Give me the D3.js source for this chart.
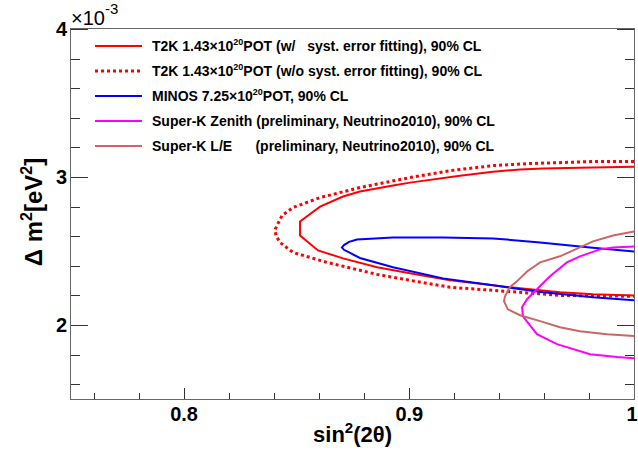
<!DOCTYPE html>
<html>
<head>
<meta charset="utf-8">
<script src="https://cdn.jsdelivr.net/npm/d3@7"></script>
<style>
  body { margin: 0; background: #fff; }
  text { font-family: "Liberation Sans", Arial, sans-serif; }
</style>
</head>
<body>
<script>
// contour points: [sin^2(2theta), dm^2 in 1e-3 eV^2]
var t2kSolid = [
  [1.0, 3.07], [0.976, 3.063], [0.9596, 3.057], [0.9494, 3.05], [0.9374, 3.036],
  [0.9227, 3.009], [0.9005, 2.962], [0.893, 2.942], [0.8783, 2.902], [0.8708, 2.868],
  [0.8606, 2.80], [0.8517, 2.70], [0.8517, 2.605], [0.8597, 2.504], [0.8708, 2.45],
  [0.8859, 2.39], [0.9005, 2.349], [0.9183, 2.302], [0.9494, 2.248], [0.9671, 2.221],
  [0.9818, 2.207], [1.0, 2.20]
];
var t2kDotted = [
  [1.0, 3.104], [0.9805, 3.104], [0.9525, 3.09], [0.9374, 3.077], [0.9183, 3.043],
  [0.9005, 2.996], [0.8783, 2.929], [0.8606, 2.861], [0.8486, 2.794], [0.8437, 2.74],
  [0.8406, 2.645], [0.841, 2.605], [0.8428, 2.558], [0.8486, 2.49], [0.8637, 2.423],
  [0.8859, 2.342], [0.9005, 2.302], [0.9183, 2.255], [0.9494, 2.221], [0.9671, 2.20],
  [1.0, 2.194]
];
var minos = [
  [1.0, 2.497], [0.9805, 2.524], [0.9583, 2.558], [0.9374, 2.585], [0.9152, 2.592],
  [0.893, 2.592], [0.877, 2.578], [0.8735, 2.562], [0.8712, 2.54], [0.8703, 2.524],
  [0.8712, 2.508], [0.8735, 2.49], [0.8783, 2.453], [0.893, 2.39], [0.9152, 2.315],
  [0.9374, 2.268], [0.9596, 2.221], [0.9818, 2.187], [1.0, 2.167]
];
var skZenith = [
  [1.0, 2.531], [0.9907, 2.524], [0.9849, 2.511], [0.976, 2.464], [0.9702, 2.423],
  [0.9627, 2.329], [0.9569, 2.241], [0.9525, 2.174], [0.9503, 2.12], [0.9507, 2.059],
  [0.9569, 1.938], [0.9658, 1.871], [0.9805, 1.803], [0.9925, 1.783], [1.0, 1.776]
];
var skLE = [
  [1.0, 2.632], [0.9907, 2.605], [0.9818, 2.565], [0.9671, 2.464], [0.9583, 2.423],
  [0.9525, 2.362], [0.948, 2.295], [0.9449, 2.255], [0.9427, 2.194], [0.9423, 2.16],
  [0.944, 2.106], [0.9494, 2.066], [0.9583, 2.026], [0.9671, 1.985], [0.976, 1.958],
  [0.988, 1.938], [1.0, 1.925]
];

var xTickLabels = [0.8, 0.9, 1];
var yTickLabels = [2, 3, 4];

var series = [
  {name: "t2k", data: t2kSolid, color: "#ff0000", dash: null, w: 2,
   label: ["T2K 1.43\u00d710", "20", "POT (w/   syst. error fitting), 90% CL"]},
  {name: "t2kNoSyst", data: t2kDotted, color: "#ff0000", dash: "3,3", w: 3,
   label: ["T2K 1.43\u00d710", "20", "POT (w/o syst. error fitting), 90% CL"]},
  {name: "minos", data: minos, color: "#0000ff", dash: null, w: 2,
   label: ["MINOS 7.25\u00d710", "20", "POT, 90% CL"]},
  {name: "skZenith", data: skZenith, color: "#ff00ff", dash: null, w: 2,
   label: ["Super-K Zenith (preliminary, Neutrino2010), 90% CL"]},
  {name: "skLE", data: skLE, color: "#cc6666", dash: null, w: 2,
   label: ["Super-K L/E      (preliminary, Neutrino2010), 90% CL"]}
];

// dimensions
var margin = {top: 29, right: 4, bottom: 52, left: 71},
    width = 638 - margin.left - margin.right,
    height = 451 - margin.top - margin.bottom;

var svg = d3.select("body").append("svg")
    .attr("width", 638)
    .attr("height", 451);

var g = svg.append("g")
    .attr("transform", "translate(" + margin.left + "," + margin.top + ")");

var x = d3.scaleLinear().domain([0.75, 1]).range([0, width]);
var y = d3.scaleLinear().domain([1.5, 4]).range([height, 0]);

g.append("clipPath").attr("id", "clip")
  .append("rect").attr("width", width).attr("height", height);

// axes (ticks point inward, ROOT style)
function styleAxis(sel) {
  sel.select(".domain").remove();
  sel.selectAll("line").attr("stroke", "#333").attr("shape-rendering", "crispEdges");
  sel.selectAll("text").attr("font-size", 20).attr("font-weight", "bold").attr("fill", "#000");
}

g.append("g").attr("transform", "translate(0," + height + ")")
  .call(d3.axisBottom(x).tickValues(d3.range(0.76, 1.0001, 0.02)).tickSize(-6).tickFormat(""))
  .call(styleAxis);
var xAx = g.append("g").attr("transform", "translate(0," + height + ")")
  .call(d3.axisBottom(x).tickValues(xTickLabels).tickSize(-11).tickPadding(8).tickFormat(d3.format("~g")))
  .call(styleAxis);
// last label sits at the window edge: keep it inside
xAx.selectAll("text").filter(d => d === 1).attr("text-anchor", "end").attr("x", 3);

g.append("g")
  .call(d3.axisLeft(y).tickValues(d3.range(1.6, 4.0001, 0.2)).tickSize(-9).tickFormat(""))
  .call(styleAxis);
g.append("g")
  .call(d3.axisLeft(y).tickValues(yTickLabels).tickSize(-17).tickPadding(4).tickFormat(d3.format("d")))
  .call(styleAxis);

g.append("g").attr("transform", "translate(" + width + ",0)")
  .call(d3.axisRight(y).tickValues(d3.range(1.6, 4.0001, 0.2)).tickSize(-9).tickFormat(""))
  .call(styleAxis);
g.append("g").attr("transform", "translate(" + width + ",0)")
  .call(d3.axisRight(y).tickValues(yTickLabels).tickSize(-17).tickFormat(""))
  .call(styleAxis);

// frame
g.append("rect")
  .attr("x", -0.5).attr("y", -0.5)
  .attr("width", width + 1).attr("height", height + 1)
  .attr("fill", "none").attr("stroke", "#666").attr("stroke-width", 1);

// contours
var line = d3.line().x(d => x(d[0])).y(d => y(d[1]));
g.append("g").attr("clip-path", "url(#clip)")
  .selectAll("path")
  .data(series)
  .enter().append("path")
    .attr("d", d => line(d.data))
    .attr("fill", "none")
    .attr("stroke", d => d.color)
    .attr("stroke-width", d => d.w)
    .attr("stroke-dasharray", d => d.dash);

// legend
var legend = svg.append("g");
var rowY = d3.scaleLinear().domain([0, 4]).range([46, 146]);
series.forEach(function(s, i) {
  var yy = rowY(i);
  legend.append("line")
    .attr("x1", 95).attr("x2", 142).attr("y1", yy).attr("y2", yy)
    .attr("stroke", s.color).attr("stroke-width", s.w)
    .attr("stroke-dasharray", s.dash);
  var t = legend.append("text")
    .attr("x", 152).attr("y", yy + 5)
    .attr("font-size", 14).attr("font-weight", "bold")
    .style("white-space", "pre");
  t.append("tspan").text(s.label[0]);
  if (s.label.length > 1) {
    t.append("tspan").attr("dy", -6).attr("font-size", 9).text(s.label[1]);
    t.append("tspan").attr("dy", 6).text(s.label[2]);
  }
});

// exponent
var ex = svg.append("text").attr("x", 71).attr("y", 25).attr("font-size", 20);
ex.append("tspan").text("\u00d710");
ex.append("tspan").attr("dy", -11).attr("font-size", 15).text("-3");

// axis titles
var xt = svg.append("text")
  .attr("x", margin.left + width / 2).attr("y", 442)
  .attr("text-anchor", "middle").attr("font-size", 22).attr("font-weight", "bold");
xt.append("tspan").text("sin");
xt.append("tspan").attr("dy", -9).attr("font-size", 15).text("2");
xt.append("tspan").attr("dy", 9).text("(2\u03b8)");

var yt = svg.append("text")
  .attr("transform", "translate(42,212) rotate(-90)")
  .attr("text-anchor", "middle").attr("font-size", 24).attr("font-weight", "bold");
yt.append("tspan").text("\u0394 m");
yt.append("tspan").attr("dy", -10).attr("font-size", 16).text("2");
yt.append("tspan").attr("dy", 10).text("[eV");
yt.append("tspan").attr("dy", -10).attr("font-size", 16).text("2");
yt.append("tspan").attr("dy", 10).text("]");
</script>
</body>
</html>
